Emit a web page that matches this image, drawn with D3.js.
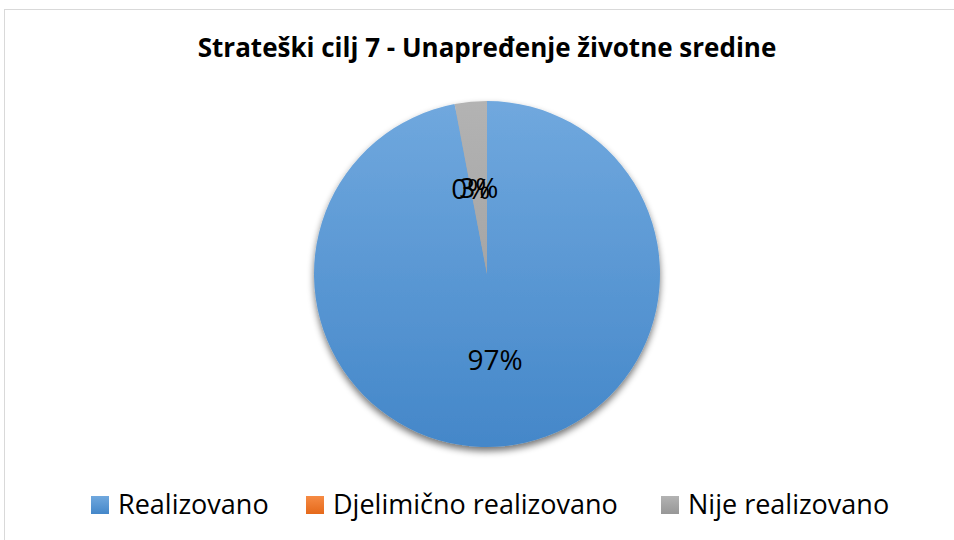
<!DOCTYPE html>
<html>
<head>
<meta charset="utf-8">
<script src="https://cdn.jsdelivr.net/npm/d3@7"></script>
<style>
  body { margin: 0; background: #fff; }
  svg { display: block; font-family: "Open Sans", "Noto Sans", sans-serif; }
</style>
</head>
<body>
<script>
// chart data
var title = "Strateški cilj 7 - Unapređenje životne sredine";
var categories = ["Realizovano", "Djelimično realizovano", "Nije realizovano"];
var values = [97, 0, 3];
var colors = [["#70a8de", "#4487c9"], ["#f68b44", "#e5691a"], ["#b3b3b3", "#979797"]];

var w = 954, h = 540;
var cx = 487, cy = 274, r = 173;

var svg = d3.select("body").append("svg")
    .attr("width", w)
    .attr("height", h);

var defs = svg.append("defs");

// legend marker gradients
colors.forEach(function(c, i) {
  var g = defs.append("linearGradient")
      .attr("id", "grad" + i)
      .attr("x1", 0).attr("y1", 0).attr("x2", 0).attr("y2", 1);
  g.append("stop").attr("offset", "0%").attr("stop-color", c[0]);
  g.append("stop").attr("offset", "100%").attr("stop-color", c[1]);
});

// pie gradient spans whole circle
colors.forEach(function(c, i) {
  var g = defs.append("linearGradient")
      .attr("id", "pgrad" + i)
      .attr("gradientUnits", "userSpaceOnUse")
      .attr("x1", 0).attr("y1", -r).attr("x2", 0).attr("y2", r);
  g.append("stop").attr("offset", "0%").attr("stop-color", c[0]);
  g.append("stop").attr("offset", "100%").attr("stop-color", c[1]);
});

var filter = defs.append("filter")
    .attr("id", "shadow")
    .attr("x", "-20%").attr("y", "-20%").attr("width", "140%").attr("height", "140%");
filter.append("feGaussianBlur").attr("in", "SourceAlpha").attr("stdDeviation", 3.5).attr("result", "blur");
filter.append("feOffset").attr("in", "blur").attr("dx", 0).attr("dy", 4).attr("result", "off");
filter.append("feComponentTransfer").attr("in", "off").attr("result", "sh")
  .append("feFuncA").attr("type", "linear").attr("slope", 0.55);
var merge = filter.append("feMerge");
merge.append("feMergeNode").attr("in", "sh");
merge.append("feMergeNode").attr("in", "SourceGraphic");

// frame
svg.append("rect")
    .attr("x", 4.5).attr("y", 9.5)
    .attr("width", w + 10).attr("height", h + 10)
    .attr("fill", "none")
    .attr("stroke", "#d9d9d9")
    .attr("stroke-width", 1);

// title
svg.append("text")
    .attr("x", cx)
    .attr("y", 57)
    .attr("text-anchor", "middle")
    .attr("font-size", 26)
    .attr("font-weight", "bold")
    .attr("fill", "#000")
    .text(title);

var pie = d3.pie().sort(null).value(function(d) { return d; });
var arcs = pie(values);
var arc = d3.arc().innerRadius(0).outerRadius(r);
var labelArc = d3.arc().innerRadius(r / 2).outerRadius(r / 2);

var g = svg.append("g")
    .attr("transform", "translate(" + cx + "," + cy + ")");

g.append("g")
    .attr("filter", "url(#shadow)")
  .selectAll("path")
    .data(arcs)
    .enter()
    .append("path")
    .attr("d", arc)
    .attr("fill", function(d, i) { return "url(#pgrad" + i + ")"; });

g.selectAll("text.lbl")
    .data(arcs)
    .enter()
    .append("text")
    .attr("class", "lbl")
    .attr("transform", function(d) {
      var c = labelArc.centroid(d);
      return "translate(" + c[0] + "," + c[1] + ")";
    })
    .attr("text-anchor", "middle")
    .attr("dy", "0.36em")
    .attr("font-size", 28)
    .attr("fill", "#000")
    .text(function(d) { return d.data + "%"; });

// legend
var legendX = [91, 306, 661];
var legend = svg.selectAll("g.leg")
    .data(categories)
    .enter()
    .append("g")
    .attr("class", "leg")
    .attr("transform", function(d, i) { return "translate(" + legendX[i] + ",496)"; });

legend.append("rect")
    .attr("width", 18).attr("height", 18)
    .attr("fill", function(d, i) { return "url(#grad" + i + ")"; });

legend.append("text")
    .attr("x", 27)
    .attr("y", 18)
    .attr("font-size", 27)
    .attr("fill", "#000")
    .text(function(d) { return d; });
</script>
</body>
</html>
